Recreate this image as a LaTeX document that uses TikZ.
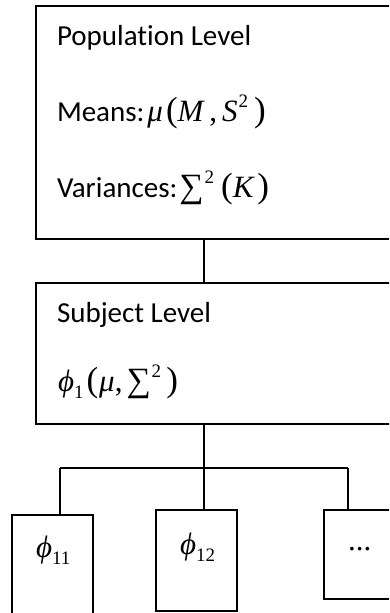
\documentclass[tikz,border=0pt]{standalone}
\usepackage{fontspec}
\setmainfont[Ligatures=NoCommon]{Carlito}
\newfontfamily\tnr{Liberation Serif}
\newcommand{\tmi}[1]{{\tnr\itshape #1}}
\newcommand{\tpar}[1]{{\fontsize{35}{35}\selectfont\tnr #1}}
\newcommand{\tsig}{{\fontsize{34}{34}\selectfont\tnr ∑}}
\newcommand{\tsup}[1]{\raisebox{0.42em}{\fontsize{19}{19}\selectfont\tnr #1}}
\newcommand{\tsub}[1]{\raisebox{-0.24em}{\fontsize{19}{19}\selectfont\tnr #1}}
\newcommand{\mathsz}{\fontsize{31}{34}\selectfont\tnr}
\begin{document}
\begin{tikzpicture}[x=1pt,y=-1pt,
  box/.style={draw=black,line width=1.5pt,rectangle,inner sep=0pt,outer sep=0pt,anchor=north west},
  conn/.style={draw=black,line width=1.5pt},
  lab/.style={anchor=base west,inner sep=0pt,outer sep=0pt,font=\fontsize{29}{34}\selectfont}]
\useasboundingbox (0,0) rectangle (389,613);
\clip (0,0) rectangle (389,613);
% boxes
\node[box,minimum width=384pt,minimum height=233pt] (pop) at (36,6) {};
\node[box,minimum width=384pt,minimum height=141pt] (subj) at (36,283) {};
\node[box,minimum width=81pt,minimum height=120pt] (b11) at (12,515) {};
\node[box,minimum width=81pt,minimum height=101pt] (b12) at (156,510) {};
\node[box,minimum width=96pt,minimum height=89pt] (b13) at (324,510) {};
% texts
\node[lab] (t1) at (57,45) {Population Level};
\node[lab] (t2) at (57,121) {Means:\kern3pt{\mathsz\tmi{μ}\kern3pt\tpar{(}\tmi{M}\kern6pt,\kern5pt\tmi{S}\kern1pt\tsup{2}\kern6pt\tpar{)}}};
\node[lab] (t3) at (57,197) {Variances:{\mathsz\kern2pt\tsig\kern1pt\tsup{2}\kern7pt\tpar{(}\tmi{K}\kern4pt\tpar{)}}};
\node[lab] (t4) at (57,322) {Subject Level};
\node[lab] (t5) at (58,391) {\mathsz\tmi{ϕ}\kern0pt\tsub{1}\kern3pt\tpar{(}\kern1pt\tmi{μ},\kern4pt\tsig\kern1pt\tsup{2}\kern5pt\tpar{)}};
\node[lab] (t6) at (36,557) {\mathsz\tmi{ϕ}\kern0pt\tsub{11}};
\node[lab] (t7) at (180,554) {\mathsz\tmi{ϕ}\kern0pt\tsub{12}};
\node[lab] (t8) at (348,550) {\mathsz...};
% connectors
\coordinate (trunk) at (204,468);
\coordinate (jl) at (60,468);
\coordinate (jr) at (348,468);
\draw[conn] (pop.south -| trunk) -- (subj.north -| trunk);
\draw[conn] (subj.south -| trunk) -- (trunk);
\draw[conn] (jl) -- (jr);
\draw[conn] (jl) -- (jl |- b11.north);
\draw[conn] (trunk) -- (trunk |- b12.north);
\draw[conn] (jr) -- (jr |- b13.north);
\end{tikzpicture}
\end{document}
